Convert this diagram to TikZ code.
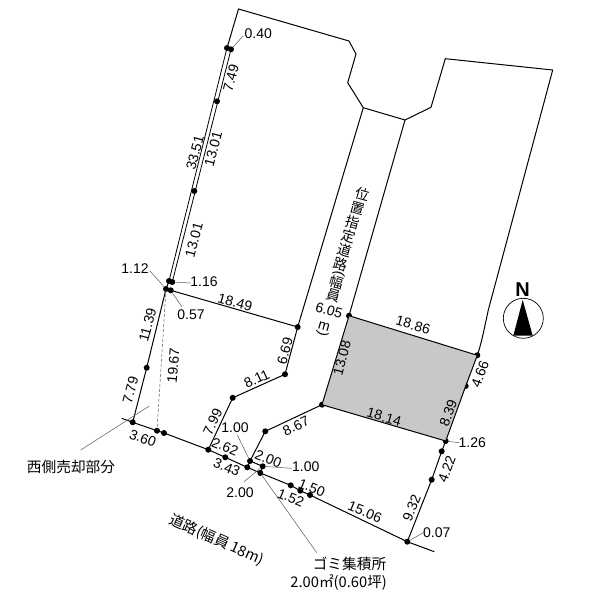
\documentclass[tikz,border=0pt]{standalone}
\usepackage{fontspec}
\setmainfont{Liberation Sans}
\newfontfamily\jpfont{Noto Sans CJK JP}
\newlength{\du}
\setlength{\du}{1pt}
\definecolor{dialinecolor}{rgb}{0.000000, 0.000000, 0.000000}
\definecolor{lotcolor}{rgb}{0.784314, 0.784314, 0.784314}
\definecolor{leadercolor}{rgb}{0.350000, 0.350000, 0.350000}
\tikzset{
  stake/.style={circle,fill=black,inner sep=0pt,minimum size=6\du},
  corner/.style={inner sep=0pt,minimum size=0pt},
  boundary/.style={draw=dialinecolor,line width=1\du,line join=miter},
  leader/.style={draw=leadercolor,line width=0.5\du},
  dim/.style={inner sep=0pt,font=\fontsize{14}{14}\selectfont},
  jp/.style={inner sep=0pt,font=\fontsize{14.7}{14.7}\selectfont\jpfont},
  jpv/.style={inner sep=0pt,rotate=-16,font=\fontsize{14}{14}\selectfont\jpfont}
}
\begin{document}
\begin{tikzpicture}
\pgftransformxscale{1.000000}
\pgftransformyscale{-1.000000}
\useasboundingbox (0\du,0\du) rectangle (600\du,600\du);
% stakes along the west side
\node[stake] (wa) at (227.000000\du,48.000000\du){};
\node[stake] (wb) at (231.000000\du,49.300000\du){};
\node[stake] (wc) at (217.000000\du,101.300000\du){};
\node[stake] (wd) at (194.300000\du,191.000000\du){};
\node[stake] (we) at (169.000000\du,281.000000\du){};
\node[stake] (wf) at (172.300000\du,282.000000\du){};
\node[stake] (wg) at (166.000000\du,289.000000\du){};
\node[stake] (wh) at (170.700000\du,290.300000\du){};
\node[stake] (wi) at (146.700000\du,367.700000\du){};
\node[stake] (wj) at (132.700000\du,422.300000\du){};
% stakes along the road
\node[stake] (ra) at (157.000000\du,430.700000\du){};
\node[stake] (rb) at (164.000000\du,433.000000\du){};
\node[stake] (rc) at (208.300000\du,449.700000\du){};
\node[stake] (rd) at (225.300000\du,457.300000\du){};
\node[stake] (re) at (247.300000\du,467.300000\du){};
\node[stake] (rf) at (250.000000\du,461.000000\du){};
\node[stake] (rg) at (262.700000\du,466.300000\du){};
\node[stake] (rh) at (260.300000\du,473.000000\du){};
\node[stake] (ri) at (290.700000\du,485.300000\du){};
\node[stake] (rj) at (300.300000\du,490.700000\du){};
\node[stake] (rk) at (310.000000\du,495.000000\du){};
\node[stake] (rl) at (407.300000\du,541.700000\du){};
% stakes inside
\node[stake] (ia) at (297.700000\du,327.000000\du){};
\node[stake] (ib) at (285.000000\du,374.300000\du){};
\node[stake] (ic) at (232.700000\du,397.800000\du){};
\node[stake] (id) at (265.300000\du,431.300000\du){};
% stakes of the grey lot and the east side
\node[stake] (la) at (349.000000\du,315.700000\du){};
\node[stake] (lb) at (477.300000\du,355.300000\du){};
\node[stake] (lc) at (445.700000\du,441.000000\du){};
\node[stake] (ld) at (322.000000\du,404.700000\du){};
\node[stake] (ea) at (465.700000\du,386.000000\du){};
\node[stake] (eb) at (441.700000\du,451.300000\du){};
\node[stake] (ec) at (431.700000\du,479.700000\du){};
% outline corners
\node[corner] (ta) at (238.500000\du,9.000000\du){};
\node[corner] (tb) at (349.000000\du,41.000000\du){};
\node[corner] (tc) at (356.000000\du,54.000000\du){};
\node[corner] (td) at (347.700000\du,82.700000\du){};
\node[corner] (te) at (363.300000\du,107.700000\du){};
\node[corner] (tf) at (405.000000\du,120.000000\du){};
\node[corner] (tg) at (431.000000\du,107.300000\du){};
\node[corner] (th) at (445.300000\du,58.700000\du){};
\node[corner] (ti) at (552.700000\du,70.000000\du){};
\coordinate (roadw) at (121.700000\du,418.300000\du);
\coordinate (roade) at (434.300000\du,551.700000\du);
% grey lot
\fill[lotcolor] (la.center)--(lb.center)--(lc.center)--(ld.center)--cycle;
% boundaries
\draw[boundary] (wa.center)--(ta.center)--(tb.center)--(tc.center)--(td.center)--(te.center)--(tf.center)--(tg.center)--(th.center)--(ti.center);
\draw[boundary] (ti.center)--(488.300000\du,310.000000\du) .. controls (484.000000\du,330.000000\du) and (481.000000\du,345.000000\du) .. (lb.center);
\draw[boundary,line width=0.8\du] (wa.center)--(we.center);
\draw[boundary,line width=0.8\du] (wb.center)--(wf.center);
\draw[boundary] (we.center)--(wg.center)--(wi.center)--(wj.center);
\draw[boundary] (wh.center)--(ia.center)--(ib.center)--(ic.center)--(rc.center);
\draw[boundary] (ia.center)--(te.center);
\draw[boundary] (la.center)--(tf.center);
\draw[boundary] (la.center)--(lb.center)--(ea.center)--(lc.center)--(eb.center)--(ec.center)--(rl.center);
\draw[boundary] (lc.center)--(ld.center)--(la.center);
\draw[boundary] (ld.center)--(id.center)--(rf.center)--(re.center);
\draw[boundary] (rf.center)--(rg.center)--(rh.center);
\draw[boundary] (roadw)--(wj.center)--(ra.center)--(rb.center)--(rc.center)--(rd.center)--(re.center)--(rh.center)--(ri.center)--(rj.center)--(rk.center)--(rl.center)--(roade);
% dotted sale line
\draw[leader,densely dashed] (wg.center)--(ra.center);
% leaders
\coordinate (la040) at (243.000000\du,36.000000\du);
\coordinate (la112) at (150.000000\du,271.000000\du);
\coordinate (la116) at (190.700000\du,283.000000\du);
\coordinate (la057) at (181.700000\du,306.700000\du);
\coordinate (lasale) at (149.300000\du,406.000000\du);
\coordinate (lbsale) at (80.700000\du,450.000000\du);
\coordinate (la100) at (237.300000\du,435.000000\du);
\coordinate (la200) at (244.000000\du,481.700000\du);
\coordinate (lb100) at (291.700000\du,468.300000\du);
\coordinate (la126) at (459.300000\du,442.700000\du);
\coordinate (la007) at (423.300000\du,532.700000\du);
\coordinate (lagomi) at (316.700000\du,552.700000\du);
\draw[leader] (wb)--(la040);
\draw[leader] (la112)--(wg);
\draw[leader] (la116)--(wf);
\draw[leader] (la057)--(wh);
\draw[leader] (lasale)--(lbsale);
\draw[leader] (la100)--(rf);
\draw[leader] (la200)--(rg);
\draw[leader] (lb100)--(rg);
\draw[leader] (la126)--(lc);
\draw[leader] (la007)--(rl);
\draw[leader] (lagomi)--(rh);
% dimensions
\node[dim] (d040) at (258.300000\du,34.000000\du){0.40};
\node[dim,rotate=75] (d749) at (231.000000\du,78.000000\du){7.49};
\node[dim,rotate=75] (d3351) at (195.000000\du,152.700000\du){33.51};
\node[dim,rotate=75] (d1301a) at (213.300000\du,149.000000\du){13.01};
\node[dim,rotate=75] (d1301b) at (194.000000\du,240.000000\du){13.01};
\node[dim] (d112) at (135.000000\du,268.300000\du){1.12};
\node[dim] (d116) at (204.000000\du,281.700000\du){1.16};
\node[dim] (d057) at (191.000000\du,315.000000\du){0.57};
\node[dim,rotate=-16] (d1849) at (235.000000\du,302.300000\du){18.49};
\node[dim,rotate=75] (d669) at (285.000000\du,351.000000\du){6.69};
\node[dim,rotate=25] (d811) at (256.700000\du,379.000000\du){8.11};
\node[dim,rotate=75] (d1139) at (147.700000\du,325.000000\du){11.39};
\node[dim,rotate=85] (d1967) at (173.300000\du,365.700000\du){19.67};
\node[dim,rotate=75] (d779) at (130.500000\du,390.000000\du){7.79};
\node[dim,rotate=-20] (d360) at (142.700000\du,438.300000\du){3.60};
\node[dim,rotate=65] (d799) at (212.700000\du,421.700000\du){7.99};
\node[dim,rotate=-22] (d262) at (225.000000\du,446.700000\du){2.62};
\node[dim,rotate=-22] (d343) at (226.700000\du,467.300000\du){3.43};
\node[dim] (d100a) at (235.000000\du,427.700000\du){1.00};
\node[dim] (d200a) at (240.000000\du,492.700000\du){2.00};
\node[dim,rotate=-22] (d200b) at (268.300000\du,459.000000\du){2.00};
\node[dim] (d100b) at (305.700000\du,466.700000\du){1.00};
\node[dim,rotate=-22] (d150) at (311.700000\du,487.700000\du){1.50};
\node[dim,rotate=-22] (d152) at (290.700000\du,497.700000\du){1.52};
\node[dim,rotate=25] (d867) at (296.000000\du,426.000000\du){8.67};
\node[dim,rotate=-22] (d1506) at (365.000000\du,512.000000\du){15.06};
\node[dim,rotate=68] (d932) at (411.700000\du,508.300000\du){9.32};
\node[dim,rotate=70] (d422) at (446.700000\du,469.000000\du){4.22};
\node[dim] (d007) at (436.700000\du,532.700000\du){0.07};
\node[dim] (d126) at (472.300000\du,442.700000\du){1.26};
\node[dim,rotate=70] (d839) at (448.300000\du,413.300000\du){8.39};
\node[dim,rotate=70] (d466) at (480.000000\du,374.000000\du){4.66};
\node[dim,rotate=-16] (d1886) at (413.000000\du,325.000000\du){18.86};
\node[dim,rotate=-16] (d1814) at (384.000000\du,417.000000\du){18.14};
\node[dim,rotate=75] (d1308) at (342.000000\du,358.000000\du){13.08};
% the private road, written downwards
\node[jpv] (va) at (362.700000\du,194.000000\du){位};
\node[jpv] (vb) at (357.300000\du,208.300000\du){置};
\node[jpv] (vc) at (352.700000\du,222.300000\du){指};
\node[jpv] (vd) at (348.300000\du,236.700000\du){定};
\node[jpv] (ve) at (344.300000\du,250.700000\du){道};
\node[jpv] (vf) at (341.000000\du,264.000000\du){路};
\node[dim,rotate=-106] (vg) at (339.000000\du,273.500000\du){(};
\node[jpv] (vh) at (336.700000\du,282.300000\du){幅};
\node[jpv] (vi) at (333.300000\du,295.700000\du){員};
\node[dim,rotate=-16] (vj) at (329.000000\du,310.700000\du){6.05};
\node[dim,rotate=-16] (vk) at (324.000000\du,326.000000\du){m};
\node[dim,rotate=-106] (vl) at (322.300000\du,333.300000\du){)};
% texts
\node[jp] (sale) at (71.000000\du,466.700000\du){西側売却部分};
\node[jp,rotate=-24] (road) at (216.700000\du,540.000000\du){道路(幅員 18m)};
\node[jp] (gomi) at (349.500000\du,564.000000\du){ゴミ集積所};
\node[jp] (gomib) at (338.700000\du,582.700000\du){2.00㎡(0.60坪)};
% north
\node[circle,draw=black,line width=0.7\du,minimum size=40\du,inner sep=0pt] (compass) at (523.300000\du,318.300000\du){};
\node[corner] (na) at (522.700000\du,300.000000\du){};
\node[corner] (nb) at (513.300000\du,335.700000\du){};
\node[corner] (nc) at (532.700000\du,335.700000\du){};
\fill[black] (na.center)--(nb.center)--(nc.center)--cycle;
\node[inner sep=0pt,font=\fontsize{20}{20}\selectfont\bfseries] (north) at (522.700000\du,290.000000\du){N};
\end{tikzpicture}
\end{document}
